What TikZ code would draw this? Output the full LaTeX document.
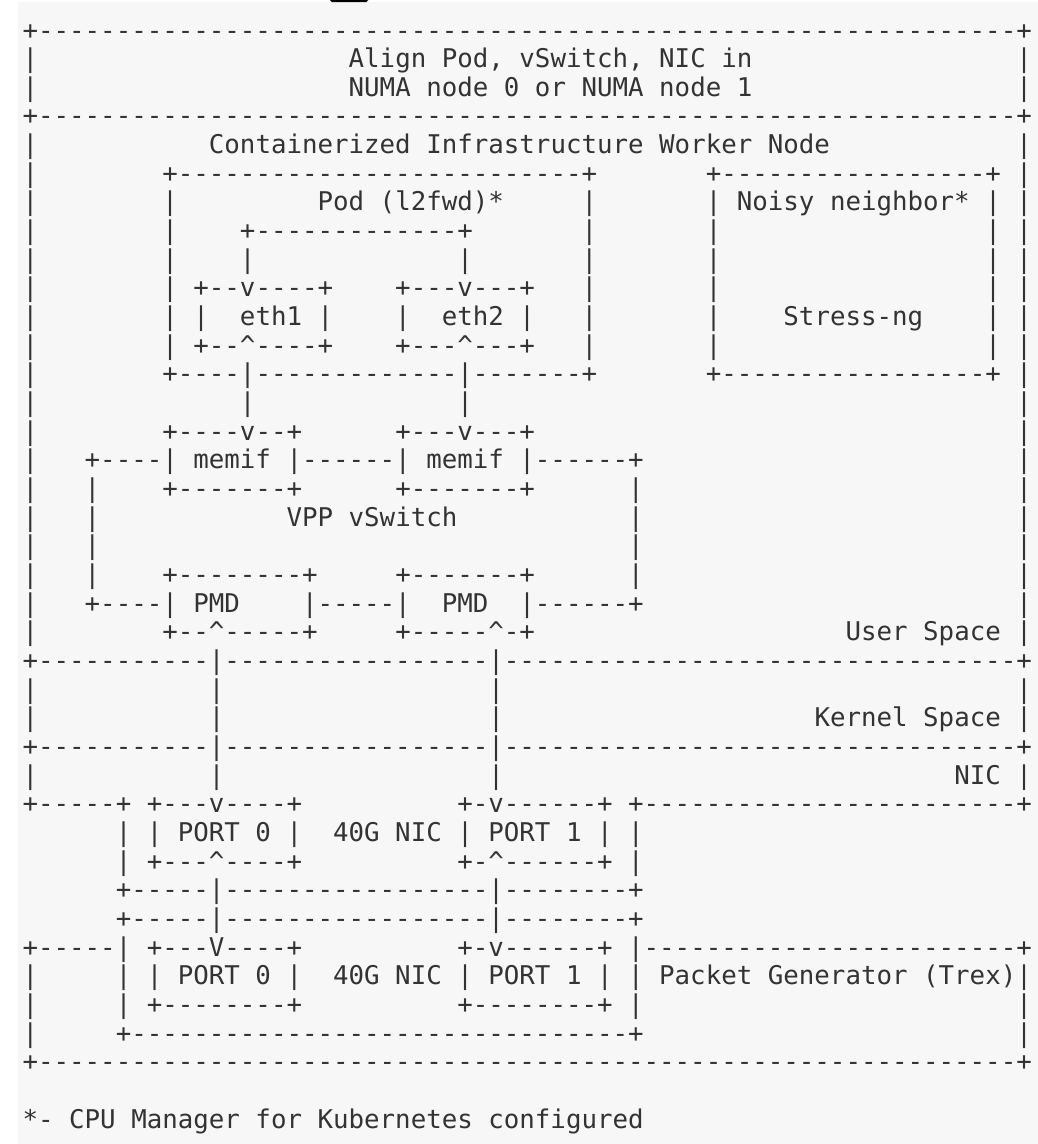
\documentclass[tikz,border=0pt]{standalone}
\usepackage{fontspec}
\setmonofont{DejaVu Sans Mono}
\usepackage{tikz}

\definecolor{paper}{RGB}{247,247,247}
\definecolor{ink}{RGB}{51,51,51}

% runs of blanks / dashes inside one row
\ExplSyntaxOn
\NewDocumentCommand\blk{m}{\prg_replicate:nn{#1}{\nobreakspace}}
\NewDocumentCommand\dsh{m}{\prg_replicate:nn{#1}{-}}
\ExplSyntaxOff
\newcommand\caret{\textasciicircum}

\begin{document}
\begin{tikzpicture}[x=0.02cm,y=0.02cm,
  row/.style={anchor=base west, text=ink,
    font=\ttfamily\frenchspacing\fontsize{14.68pt}{17pt}\selectfont}]
\tikzstyle{every node}+=[inner sep=0pt]
\useasboundingbox (0,0) rectangle (1038,-1144);
\fill [paper] (18,-2) rectangle (1038,-1144);
\fill [black, rounded corners=1] (330,1) rectangle (368,-2);
% NUMA header
\node[row] (r0) at (22.24,-39.00) {+\dsh{63}+};
\node[row] (r1) at (22.24,-67.66) {|\blk{20}Align Pod, vSwitch, NIC in\blk{17}|};
\node[row] (r2) at (22.24,-96.32) {|\blk{20}NUMA node 0 or NUMA node 1\blk{17}|};
\node[row] (r3) at (22.24,-124.98) {+\dsh{63}+};
% worker node: pod and noisy neighbor
\node[row] (r4) at (22.24,-153.64) {|\blk{11}Containerized Infrastructure Worker Node\blk{12}|};
\node[row] (r5) at (22.24,-182.30) {|\blk{8}+\dsh{26}+\blk{7}+\dsh{17}+ |};
\node[row] (r6) at (22.24,-210.96) {|\blk{8}|\blk{9}Pod (l2fwd)*\blk{5}|\blk{7}| Noisy neighbor* | |};
\node[row] (r7) at (22.24,-239.62) {|\blk{8}|\blk{4}+\dsh{13}+\blk{7}|\blk{7}|\blk{17}| |};
\node[row] (r8) at (22.24,-268.28) {|\blk{8}|\blk{4}|\blk{13}|\blk{7}|\blk{7}|\blk{17}| |};
\node[row] (r9) at (22.24,-296.94) {|\blk{8}| +--v----+\blk{4}+---v---+\blk{3}|\blk{7}|\blk{17}| |};
\node[row] (r10) at (22.24,-325.60) {|\blk{8}| |\blk{2}eth1 |\blk{4}|\blk{2}eth2 |\blk{3}|\blk{7}|\blk{4}Stress-ng\blk{4}| |};
\node[row] (r11) at (22.24,-354.26) {|\blk{8}| +--\caret----+\blk{4}+---\caret---+\blk{3}|\blk{7}|\blk{17}| |};
\node[row] (r12) at (22.24,-382.92) {|\blk{8}+----|\dsh{13}|-------+\blk{7}+\dsh{17}+ |};
\node[row] (r13) at (22.24,-411.58) {|\blk{13}|\blk{13}|\blk{35}|};
% vswitch
\node[row] (r14) at (22.24,-440.24) {|\blk{8}+----v--+\blk{6}+---v---+\blk{31}|};
\node[row] (r15) at (22.24,-468.90) {|\blk{3}+----| memif |------| memif |------+\blk{24}|};
\node[row] (r16) at (22.24,-497.56) {|\blk{3}|\blk{4}+-------+\blk{6}+-------+\blk{6}|\blk{24}|};
\node[row] (r17) at (22.24,-526.22) {|\blk{3}|\blk{12}VPP vSwitch\blk{11}|\blk{24}|};
\node[row] (r18) at (22.24,-554.88) {|\blk{3}|\blk{34}|\blk{24}|};
\node[row] (r19) at (22.24,-583.54) {|\blk{3}|\blk{4}+--------+\blk{5}+-------+\blk{6}|\blk{24}|};
\node[row] (r20) at (22.24,-612.20) {|\blk{3}+----| PMD\blk{4}|-----|\blk{2}PMD\blk{2}|------+\blk{24}|};
\node[row] (r21) at (22.24,-640.86) {|\blk{8}+--\caret-----+\blk{5}+-----\caret-+\blk{20}User Space |};
% kernel and NIC layers
\node[row] (r22) at (22.24,-669.52) {+\dsh{11}|\dsh{17}|\dsh{33}+};
\node[row] (r23) at (22.24,-698.18) {|\blk{11}|\blk{17}|\blk{33}|};
\node[row] (r24) at (22.24,-726.84) {|\blk{11}|\blk{17}|\blk{20}Kernel Space |};
\node[row] (r25) at (22.24,-755.50) {+\dsh{11}|\dsh{17}|\dsh{33}+};
\node[row] (r26) at (22.24,-784.16) {|\blk{11}|\blk{17}|\blk{29}NIC |};
\node[row] (r27) at (22.24,-812.82) {+-----+ +---v----+\blk{10}+-v------+ +\dsh{24}+};
\node[row] (r28) at (22.24,-841.48) {\blk{6}| | PORT 0 |\blk{2}40G NIC | PORT 1 | |};
\node[row] (r29) at (22.24,-870.14) {\blk{6}| +---\caret----+\blk{10}+-\caret------+ |};
\node[row] (r30) at (22.24,-898.80) {\blk{6}+-----|\dsh{17}|--------+};
% packet generator
\node[row] (r31) at (22.24,-927.46) {\blk{6}+-----|\dsh{17}|--------+};
\node[row] (r32) at (22.24,-956.12) {+-----| +---V----+\blk{10}+-v------+ |\dsh{24}+};
\node[row] (r33) at (22.24,-984.78) {|\blk{5}| | PORT 0 |\blk{2}40G NIC | PORT 1 | | Packet Generator (Trex)|};
\node[row] (r34) at (22.24,-1013.44) {|\blk{5}| +--------+\blk{10}+--------+ |\blk{24}|};
\node[row] (r35) at (22.24,-1042.10) {|\blk{5}+\dsh{32}+\blk{24}|};
\node[row] (r36) at (22.24,-1070.76) {+\dsh{63}+};
\node[row] (note) at (22.24,-1128.08) {*- CPU Manager for Kubernetes configured};
\end{tikzpicture}
\end{document}
